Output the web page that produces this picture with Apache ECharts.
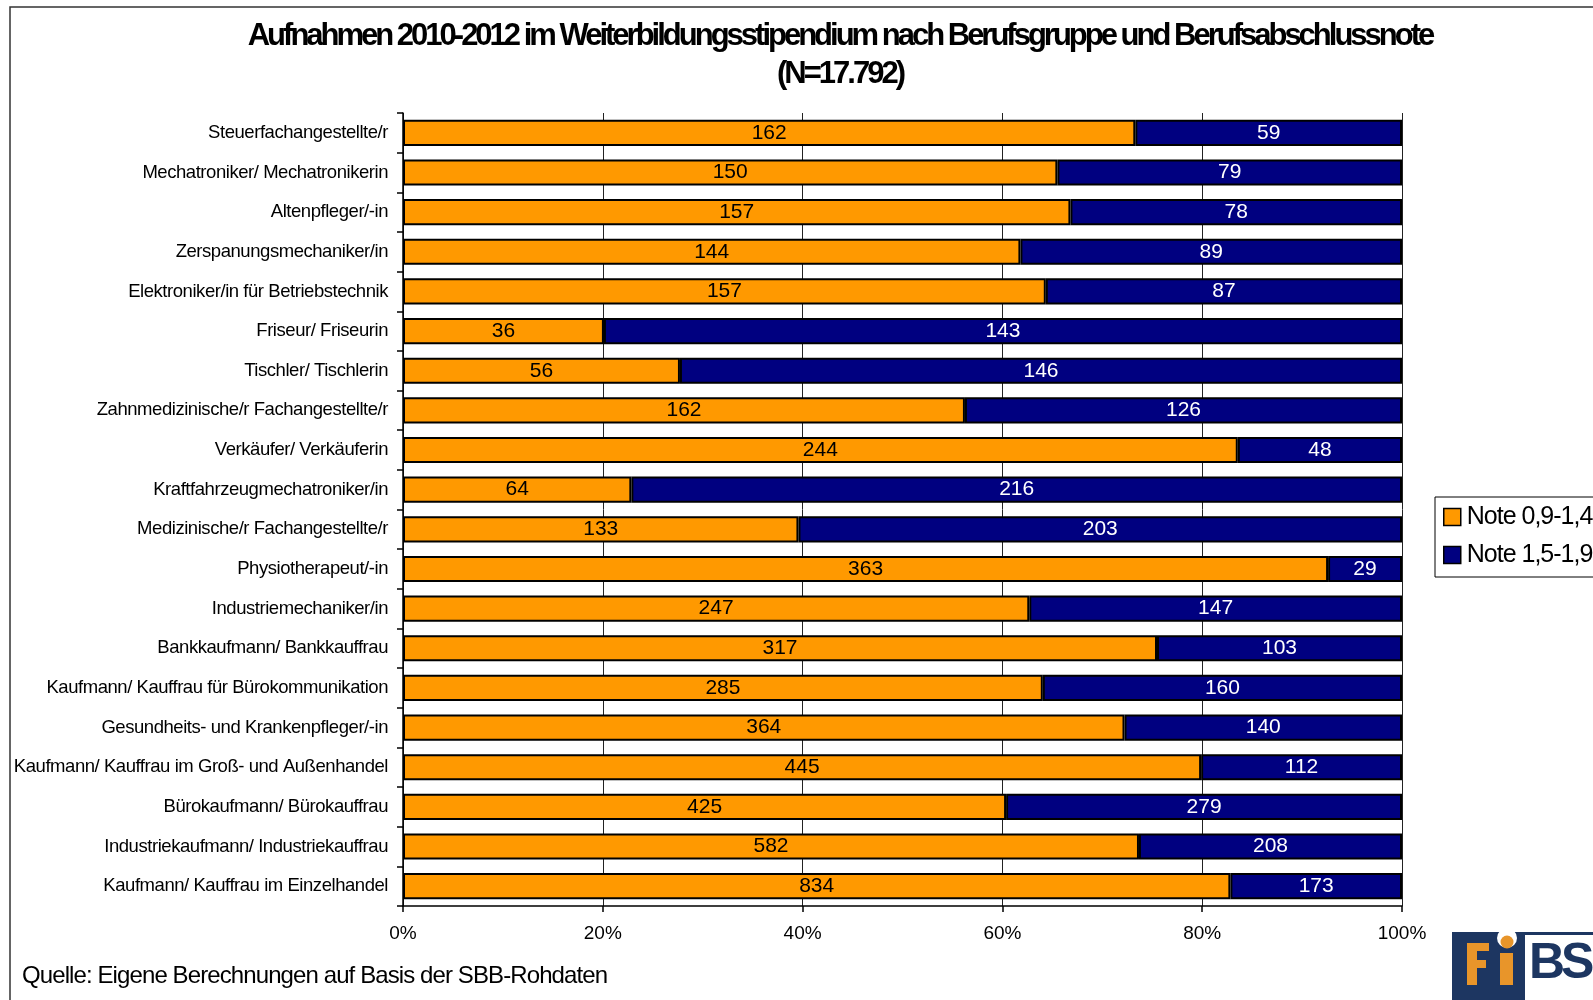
<!DOCTYPE html>
<html>
<head>
<meta charset="utf-8">
<script src="https://cdn.jsdelivr.net/npm/echarts@6/dist/echarts.min.js"></script>
<style>html,body{margin:0;padding:0;background:#fff}#c{width:1593px;height:1000px}</style>
</head>
<body>
<div id="c"></div>
<script>
// Tight tracking like the reference (rendering tweak only)
(function(){
  var p = CanvasRenderingContext2D.prototype;
  var spacing = {'31':-3, '18.5':-0.45, '24':-0.9, '25':-1, '50':-4};
  function ap(ctx){
    var m = /([\d.]+)px/.exec(ctx.font);
    var s = m && spacing[String(parseFloat(m[1]))];
    try { ctx.letterSpacing = (s ? s : 0) + 'px'; } catch(e){}
  }
  var f = p.fillText, mt = p.measureText, st = p.strokeText;
  p.fillText = function(){ ap(this); return f.apply(this, arguments); };
  p.strokeText = function(){ ap(this); return st.apply(this, arguments); };
  p.measureText = function(){ ap(this); return mt.apply(this, arguments); };
})();

const categories = [
  'Steuerfachangestellte/r',
  'Mechatroniker/ Mechatronikerin',
  'Altenpfleger/-in',
  'Zerspanungsmechaniker/in',
  'Elektroniker/in für Betriebstechnik',
  'Friseur/ Friseurin',
  'Tischler/ Tischlerin',
  'Zahnmedizinische/r Fachangestellte/r',
  'Verkäufer/ Verkäuferin',
  'Kraftfahrzeugmechatroniker/in',
  'Medizinische/r Fachangestellte/r',
  'Physiotherapeut/-in',
  'Industriemechaniker/in',
  'Bankkaufmann/ Bankkauffrau',
  'Kaufmann/ Kauffrau für Bürokommunikation',
  'Gesundheits- und Krankenpfleger/-in',
  'Kaufmann/ Kauffrau im Groß- und Außenhandel',
  'Bürokaufmann/ Bürokauffrau',
  'Industriekaufmann/ Industriekauffrau',
  'Kaufmann/ Kauffrau im Einzelhandel'
];
const note09_14 = [162,150,157,144,157,36,56,162,244,64,133,363,247,317,285,364,445,425,582,834];
const note15_19 = [59,79,78,89,87,143,146,126,48,216,203,29,147,103,160,140,112,279,208,173];
const seriesNames = ['Note 0,9-1,4','Note 1,5-1,9'];
const tickLabels = ['0%','20%','40%','60%','80%','100%'];
const titleLines = ['Aufnahmen 2010-2012 im Weiterbildungsstipendium nach Berufsgruppe und Berufsabschlussnote','(N=17.792)'];
const sourceText = 'Quelle: Eigene Berechnungen auf Basis der SBB-Rohdaten';

const totals = note09_14.map((v,i)=>v+note15_19[i]);
const mk = arr => arr.map((v,i)=>({value: v/totals[i]*100, raw: v}));

const chart = echarts.init(document.getElementById('c'), null, {renderer:'canvas'});
const FONT = 'Liberation Sans, Arial, sans-serif';
const NAVY = '#1d3661', ORANGE = '#e8952a';
chart.setOption({
  animation: false,
  textStyle: {fontFamily: FONT},
  grid: {left: 403, right: 191, top: 113, bottom: 94, containLabel: false},
  xAxis: {
    type: 'value', min: 0, max: 100, interval: 20,
    axisLine: {show: true, lineStyle: {color: '#000', width: 1.5}},
    axisTick: {show: true, length: 6, lineStyle: {color: '#000', width: 1.5}},
    splitLine: {show: true, lineStyle: {color: '#222', width: 1}},
    axisLabel: {
      margin: 18, fontSize: 19, color: '#000', fontFamily: FONT,
      formatter: v => tickLabels[Math.round(v/20)]
    }
  },
  yAxis: {
    type: 'category', data: categories, inverse: true,
    axisLine: {show: true, lineStyle: {color: '#000', width: 1.5}},
    axisTick: {show: true, length: 6, lineStyle: {color: '#000', width: 1.5}},
    splitLine: {show: false},
    axisLabel: {margin: 15, fontSize: 18.5, color: '#000', fontFamily: FONT}
  },
  legend: {
    orient: 'vertical', left: 1435, top: 497,
    data: seriesNames,
    borderColor: '#000', borderWidth: 1, borderRadius: 0,
    padding: [7, 10, 9, 8], itemGap: 12,
    itemWidth: 17, itemHeight: 17, icon: 'rect',
    itemStyle: {borderColor: '#000', borderWidth: 1.5},
    textStyle: {fontSize: 25, color: '#000', lineHeight: 26, fontFamily: FONT, padding: [0,0,0,1]}
  },
  series: [
    {
      name: seriesNames[0], type: 'bar', stack: 's', barCategoryGap: '34%',
      data: mk(note09_14),
      itemStyle: {color: '#FF9900', borderColor: '#000', borderWidth: 2},
      label: {show: true, position: 'inside', fontSize: 21, color: '#000', fontFamily: FONT,
        formatter: p => p.data.raw}
    },
    {
      name: seriesNames[1], type: 'bar', stack: 's', barCategoryGap: '34%',
      data: mk(note15_19),
      itemStyle: {color: '#000080', borderColor: '#000', borderWidth: 2},
      label: {show: true, position: 'inside', fontSize: 21, color: '#fff', fontFamily: FONT,
        formatter: p => p.data.raw}
    }
  ],
  graphic: [
    {type: 'rect', silent: true, shape: {x: 10, y: 7, width: 1700, height: 1200},
      style: {fill: 'none', stroke: '#333', lineWidth: 1.5}},
    {type: 'text', x: 840, y: 36, style: {text: titleLines[0], font: 'bold 31px ' + FONT,
      fill: '#000', textAlign: 'center', textVerticalAlign: 'middle'}},
    {type: 'text', x: 840, y: 74, style: {text: titleLines[1], font: 'bold 31px ' + FONT,
      fill: '#000', textAlign: 'center', textVerticalAlign: 'middle'}},
    {type: 'text', x: 22, y: 976, style: {text: sourceText, font: '24px ' + FONT,
      fill: '#000', textAlign: 'left', textVerticalAlign: 'middle'}},
    // FiBS logo
    {type: 'rect', silent: true, shape: {x: 1452, y: 932, width: 150, height: 80}, style: {fill: NAVY}},
    {type: 'rect', silent: true, shape: {x: 1525, y: 935, width: 80, height: 70}, style: {fill: '#ffffff'}},
    {type: 'circle', silent: true, shape: {cx: 1507, cy: 938, r: 10}, style: {fill: '#ffffff'}},
    {type: 'rect', silent: true, shape: {x: 1452, y: 924, width: 150, height: 8}, style: {fill: '#ffffff'}},
    {type: 'circle', silent: true, shape: {cx: 1507, cy: 942, r: 6.5}, style: {fill: ORANGE}},
    {type: 'rect', silent: true, shape: {x: 1500, y: 953, width: 13, height: 32}, style: {fill: ORANGE}},
    {type: 'rect', silent: true, shape: {x: 1467, y: 943, width: 10, height: 42}, style: {fill: ORANGE}},
    {type: 'rect', silent: true, shape: {x: 1467, y: 943, width: 22, height: 8}, style: {fill: ORANGE}},
    {type: 'rect', silent: true, shape: {x: 1467, y: 960, width: 19, height: 8}, style: {fill: ORANGE}},
    {type: 'text', x: 1529, y: 964, z: 10,
      style: {text: 'BS', font: 'bold 50px Liberation Sans, sans-serif',
      fill: NAVY, textAlign: 'left', textVerticalAlign: 'middle'}}
  ]
});
</script>
</body>
</html>
